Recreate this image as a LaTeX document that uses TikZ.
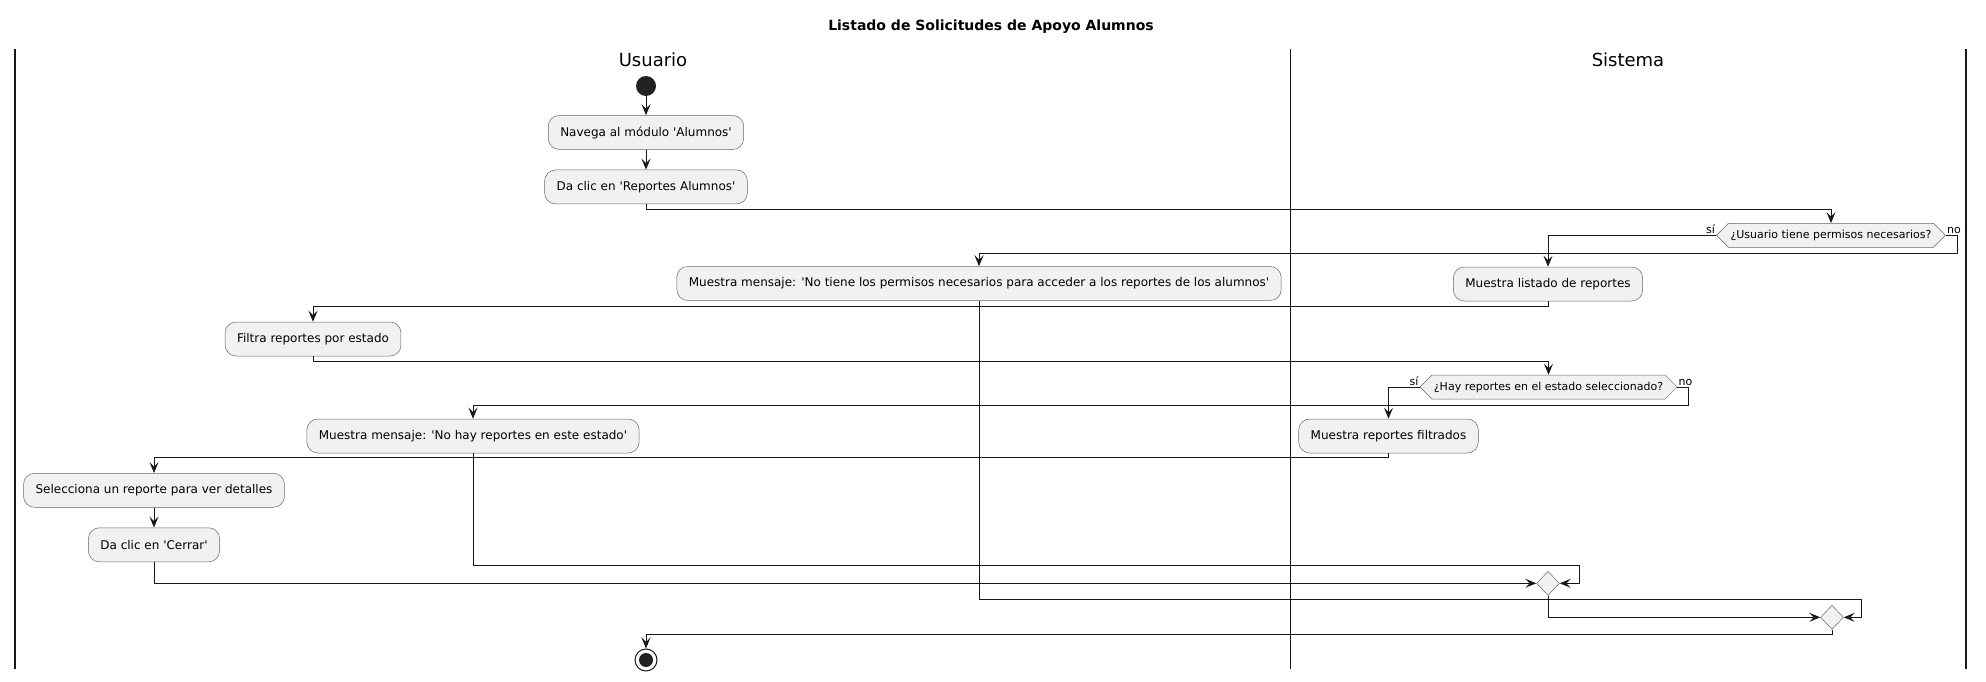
\documentclass[tikz,border=0pt]{standalone}
\usepackage{fontspec}
\setmainfont{DejaVu Sans}[Ligatures=TeXOff]
\usepackage{tikz}
\usetikzlibrary{arrows.meta,calc}
\usetikzlibrary{positioning}
\usetikzlibrary{shapes.geometric,shapes.symbols}
\definecolor{boxgray}{HTML}{F1F1F1}
\definecolor{ink}{HTML}{181818}
\definecolor{dotgray}{HTML}{222222}
\tikzset{
    act/.style={
           rectangle, rounded corners=11pt,
           draw=black!60, line width=0.5pt,
           fill=boxgray,
           minimum height=34pt,
           inner xsep=12pt,
           font=\fontsize{12}{14}\selectfont,
           },
}
\tikzset{
    cond/.style={
           signal, signal to=east and west,
           draw=black!60, line width=0.5pt,
           fill=boxgray,
           minimum height=24pt,
           inner xsep=2pt, inner ysep=0pt,
           font=\fontsize{11}{13}\selectfont,
           },
}
\tikzset{
    merge/.style={
           diamond,
           draw=black!60, line width=0.5pt,
           fill=boxgray,
           minimum width=23pt, minimum height=24pt,
           inner sep=0pt,
           },
}
\tikzset{
    flow/.style={
           -{Stealth[length=11pt,width=9pt,inset=4.5pt]},
           draw=ink, line width=0.95pt,
           },
    lane/.style={draw=ink, line width=1.5pt},
    lbl/.style={font=\fontsize{11}{13}\selectfont, inner sep=1pt},
}

\begin{document}
\begin{tikzpicture}[x=1pt,y=-1pt]
\useasboundingbox (0,0) rectangle (1986,682);
% lanes
\draw[lane] (15,49) -- (15,669);
\draw[lane] (1290.7,49) -- (1290.7,669);
\draw[lane] (1966,49) -- (1966,669);
\node[font=\bfseries\fontsize{14}{16}\selectfont](title) at (991,27){Listado de Solicitudes de Apoyo Alumnos};
\node[font=\fontsize{18}{20}\selectfont](usu) at (653,60){Usuario};
\node[font=\fontsize{18}{20}\selectfont](sis) at (1628,60){Sistema};
% nodes
\node[circle,fill=dotgray,minimum size=20pt,inner sep=0pt](start) at (646,86){};
\node[act,below=19pt of start](nav){Navega al módulo 'Alumnos'};
\node[act,below=20pt of nav](dac){Da clic en 'Reportes Alumnos'};
\node[cond](dec1) at (1831,235.3){¿Usuario tiene permisos necesarios?};
\node[act](msg1) at (979,283.5){Muestra mensaje: 'No tiene los permisos necesarios para acceder a los reportes de los alumnos'};
\node[act](list) at (1548,284){Muestra listado de reportes};
\node[act](fil) at (313,339){Filtra reportes por estado};
\node[cond](dec2) at (1548.5,387){¿Hay reportes en el estado seleccionado?};
\node[act](msg2) at (473,436){Muestra mensaje: 'No hay reportes en este estado'};
\node[act](filt) at (1388.5,436){Muestra reportes filtrados};
\node[act](sel) at (154,490.3){Selecciona un reporte para ver detalles};
\node[act,below=20pt of sel](cer){Da clic en 'Cerrar'};
\node[merge](m1) at (1548,583.3){};
\node[merge](m2) at (1832,617.3){};
\node[circle,draw=ink,line width=1pt,fill=white,minimum size=22pt,inner sep=0pt,
      path picture={\fill[dotgray] (path picture bounding box.center) circle (7pt);}](stop) at (646,660){};
% labels
\node[lbl,anchor=south east] at (dec1.west){sí};
\node[lbl,anchor=south west] at (dec1.east){no};
\node[lbl,anchor=south east] at (dec2.west){sí};
\node[lbl,anchor=south west] at (dec2.east){no};
% connectors
\draw[flow] (start) -- (nav);
\draw[flow] (nav) -- (dac);
\draw[flow] (dac.south) -- ++(0,5) -| (dec1.north);
\draw[flow] (dec1.west) -| (list.north);
\draw[flow] (dec1.east) -- ++(12,0) -- ++(0,18) -| (msg1.north);
\draw[flow] (list.south) -- ++(0,5) -| (fil.north);
\draw[flow] (fil.south) -- ++(0,5) -| (dec2.north);
\draw[flow] (dec2.west) -| (filt.north);
\draw[flow] (dec2.east) -- ++(11,0) -- ++(0,18) -| (msg2.north);
\draw[flow] (filt.south) -- ++(0,4.5) -| (sel.north);
\draw[flow] (sel) -- (cer);
\draw[flow] (cer.south) |- (m1.west);
\draw[flow] (msg2.south) |- ($(m1.east)+(20,-18)$) |- (m1.east);
\draw[flow] (m1.south) |- (m2.west);
\draw[flow] (msg1.south) |- ($(m2.east)+(18,-18)$) |- (m2.east);
\draw[flow] (m2.south) -- ++(0,5) -| (stop.north);
\end{tikzpicture}
\end{document}
